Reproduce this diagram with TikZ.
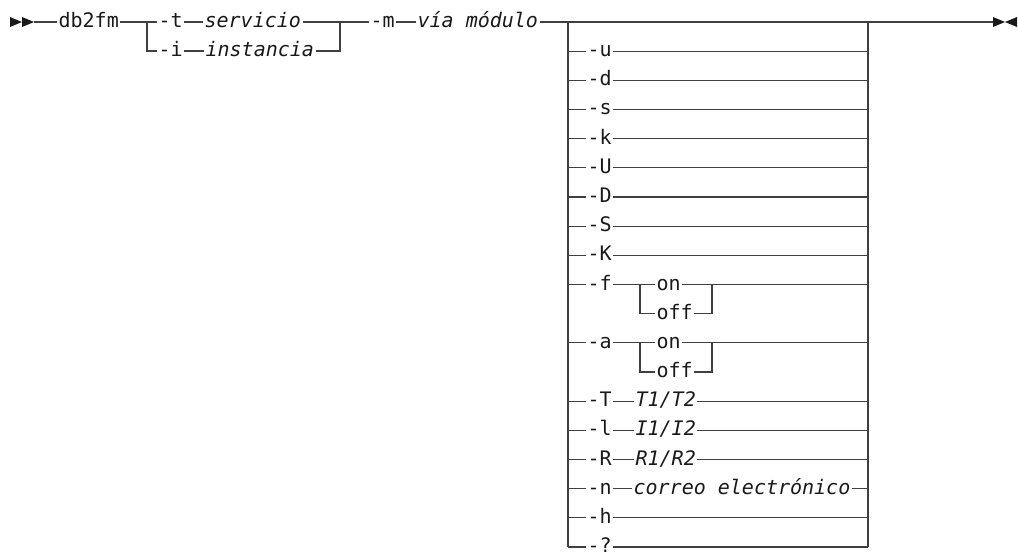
\documentclass[tikz,border=0pt]{standalone}
\usepackage{fontspec}
\setmonofont{DejaVu Sans Mono}[ItalicFont={DejaVu Sans Mono Oblique}]
\usetikzlibrary{calc}
\tikzset{
  %% Rail line
  rail/.style={draw=black!75, line width=0.9pt},
  %% Keyword and variable text
  kw/.style={anchor=mid west, inner xsep=1pt, inner ysep=0pt,
             font=\ttfamily\fontsize{15}{18}\selectfont, text=black!90},
  var/.style={kw, font=\ttfamily\itshape\fontsize{15}{18}\selectfont},
  %% End marks
  tip/.style={fill=black!90},
}
\begin{document}
\ttfamily\fontsize{15}{18}\selectfont
\begin{tikzpicture}[x=0.75pt, y=-0.75pt]
  \useasboundingbox (0,0) rectangle (1018,554);

  %% start mark
  \coordinate (start) at (34,22);
  \fill[tip] (10,17) -- (22,22) -- (10,27) -- cycle;
  \fill[tip] (22,17) -- (34,22) -- (22,27) -- cycle;

  %% command, first choice
  \node[kw] (cmd) at (57,22) {db2fm};
  \coordinate (b1) at (147,22);
  \coordinate (j1) at (340,22);
  \node[kw]  (t)    at (157,22) {-t};
  \node[var] (serv) at (203,22) {servicio};
  \node[kw]  (i)    at (157,51) {-i};
  \node[var] (inst) at (204,51) {instancia};

  \node[kw]  (m)   at (369,22) {-m};
  \node[var] (via) at (416,22) {vía módulo};

  \coordinate (b2)  at (568,22);
  \coordinate (j2)  at (868,22);
  \coordinate (fin) at (993,22);

  \draw[rail] (start) -- (cmd.mid west) (cmd.mid east) -- (b1)
              (b1) -- (t.mid west) (t.mid east) -- (serv.mid west)
              (serv.mid east) -- (j1)
              (b1) |- (i.mid west) (i.mid east) -- (inst.mid west)
              (inst.mid east) -| (j1)
              (j1) -- (m.mid west) (m.mid east) -- (via.mid west)
              (via.mid east) -- (b2) -- (j2) -- (fin);
  \draw[rail, line width=1.4pt] ($(j2)+(5,-0.5)$) -- ++(24,0);

  %% end mark
  \fill[tip] (993,17) -- (1005,22) -- (993,27) -- cycle;
  \fill[tip] (1017,17) -- (1005,22) -- (1017,27) -- cycle;

  %% plain options
  \foreach \r/\t in {1/-u, 2/-d, 3/-s, 4/-k, 5/-U, 6/-D, 7/-S, 8/-K,
                     17/-h, 18/-?}{
    \node[kw] (o\r) at (586,{22+29.17*\r}) {\t};
    \draw[rail] (o\r.mid west -| b2) -- (o\r.mid west)
                (o\r.mid east) -- (o\r.mid east -| j2);
  }

  %% on/off options
  \foreach \r/\t in {9/-f, 11/-a}{
    \node[kw] (o\r) at (586,{22+29.17*\r}) {\t};
    \coordinate (sb\r) at (640,{22+29.17*\r});
    \coordinate (sj\r) at (712,{22+29.17*\r});
    \node[kw] (on\r)  at (655,{22+29.17*\r}) {on};
    \node[kw] (off\r) at (655,{22+29.17*(\r+1)}) {off};
    \draw[rail] (o\r.mid west -| b2) -- (o\r.mid west)
                (o\r.mid east) -- (on\r.mid west)
                (sb\r) |- (off\r.mid west)
                (on\r.mid east) -- (on\r.mid east -| j2)
                (off\r.mid east) -| (sj\r);
  }

  %% options with a value
  \foreach \r/\t/\v/\x in {13/-T/{T1/T2}/634, 14/-l/{I1/I2}/634,
                           15/-R/{R1/R2}/634, 16/-n/{correo electrónico}/632}{
    \node[kw]  (o\r) at (586,{22+29.17*\r}) {\t};
    \node[var] (a\r) at (\x,{22+29.17*\r}) {\v};
    \draw[rail] (o\r.mid west -| b2) -- (o\r.mid west)
                (o\r.mid east) -- (a\r.mid west)
                (a\r.mid east) -- (a\r.mid east -| j2);
  }

  \draw[rail] (b2) -- (b2 |- o18.mid west);
  \draw[rail] (j2) -- (j2 |- o18.mid east);
\end{tikzpicture}
\end{document}
